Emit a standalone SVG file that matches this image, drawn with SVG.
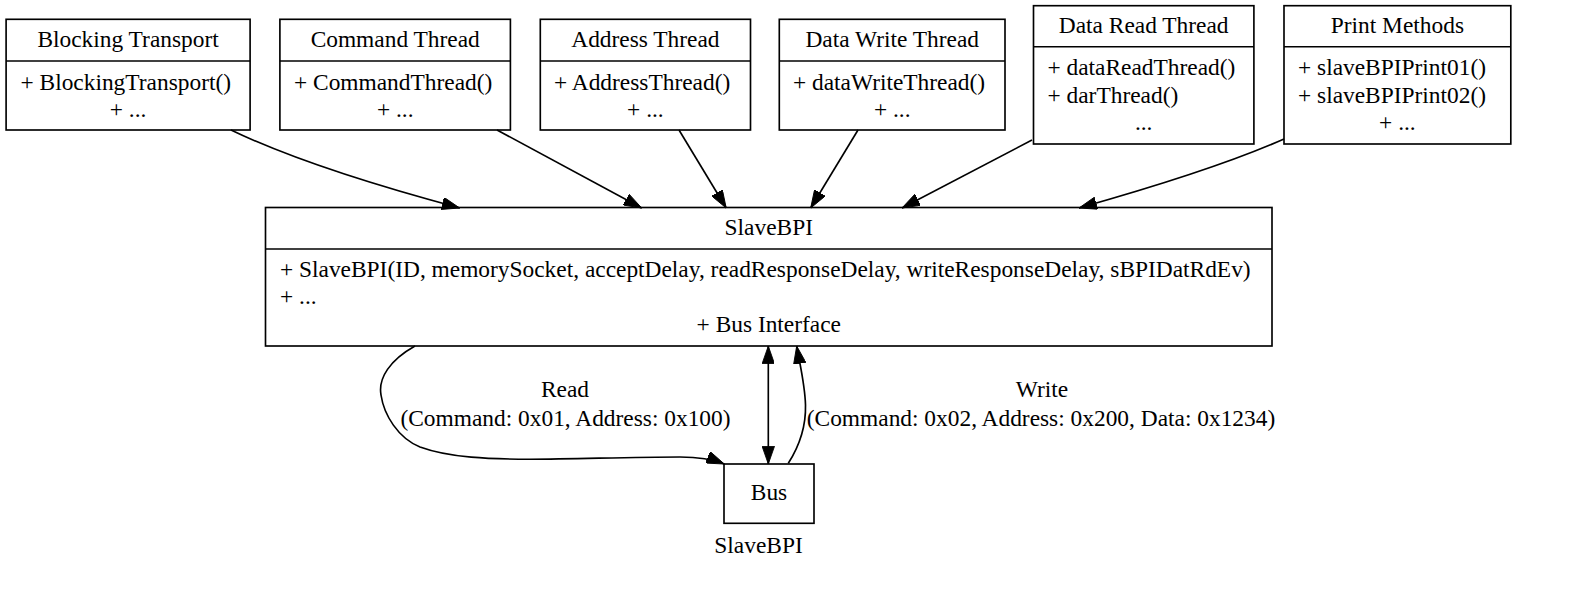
<svg xmlns="http://www.w3.org/2000/svg" width="1583" height="602" viewBox="0 0 1583 602">
<style>
.box{fill:#fff;stroke:#000;stroke-width:1.65}
.div{stroke:#000;stroke-width:1.65}
text{font-family:"Liberation Serif","Times New Roman",serif;font-size:23.4px;fill:#000}
.c{text-anchor:middle}
.e{fill:none;stroke:#000;stroke-width:1.65}
</style>
<defs>
<marker id="arr" viewBox="0 0 10 7" refX="10" refY="3.5" markerWidth="18" markerHeight="12.4" markerUnits="userSpaceOnUse" orient="auto-start-reverse">
<path d="M0,0 L10,3.5 L0,7 Z" fill="#000" stroke="#000" stroke-width="0.5"/>
</marker>
</defs>
<rect x="0" y="0" width="1583" height="602" fill="#fff"/>

<g id="blocking-transport">
<rect class="box" x="6.1" y="19.3" width="244" height="110.7"/>
<line class="div" x1="6.1" y1="61" x2="250.1" y2="61"/>
<text class="c" x="128.1" y="47">Blocking Transport</text>
<text x="20.5" y="89.5">+ BlockingTransport()</text>
<text class="c" x="128.1" y="116.8">+ ...</text>
</g>

<g id="command-thread">
<rect class="box" x="279.9" y="19.3" width="230.5" height="110.7"/>
<line class="div" x1="279.9" y1="61" x2="510.4" y2="61"/>
<text class="c" x="395.2" y="47">Command Thread</text>
<text x="294" y="89.5">+ CommandThread()</text>
<text class="c" x="395.2" y="116.8">+ ...</text>
</g>

<g id="address-thread">
<rect class="box" x="540.3" y="19.3" width="210.2" height="110.7"/>
<line class="div" x1="540.3" y1="61" x2="750.5" y2="61"/>
<text class="c" x="645.4" y="47">Address Thread</text>
<text x="554" y="89.5">+ AddressThread()</text>
<text class="c" x="645.4" y="116.8">+ ...</text>
</g>

<g id="data-write-thread">
<rect class="box" x="779.3" y="19.3" width="225.7" height="110.7"/>
<line class="div" x1="779.3" y1="61" x2="1005" y2="61"/>
<text class="c" x="892.2" y="47">Data Write Thread</text>
<text x="793" y="89.5">+ dataWriteThread()</text>
<text class="c" x="892.2" y="116.8">+ ...</text>
</g>

<g id="data-read-thread">
<rect class="box" x="1033.5" y="5.7" width="220.4" height="138.3"/>
<line class="div" x1="1033.5" y1="46.7" x2="1253.9" y2="46.7"/>
<text class="c" x="1143.7" y="33">Data Read Thread</text>
<text x="1047.5" y="75.3">+ dataReadThread()</text>
<text x="1047.5" y="102.6">+ darThread()</text>
<text class="c" x="1143.7" y="130">...</text>
</g>

<g id="print-methods">
<rect class="box" x="1284" y="5.7" width="226.8" height="138.3"/>
<line class="div" x1="1284" y1="46.7" x2="1510.8" y2="46.7"/>
<text class="c" x="1397.4" y="33">Print Methods</text>
<text x="1298" y="75.3">+ slaveBPIPrint01()</text>
<text x="1298" y="102.6">+ slaveBPIPrint02()</text>
<text class="c" x="1397.4" y="130">+ ...</text>
</g>

<g id="slavebpi">
<rect class="box" x="265.5" y="207.5" width="1006.5" height="138.5"/>
<line class="div" x1="265.5" y1="249" x2="1272" y2="249"/>
<text class="c" x="768.8" y="235">SlaveBPI</text>
<text x="280" y="277">+ SlaveBPI(ID, memorySocket, acceptDelay, readResponseDelay, writeResponseDelay, sBPIDatRdEv)</text>
<text x="280" y="304.3">+ ...</text>
<text class="c" x="768.8" y="331.6">+ Bus Interface</text>
</g>

<g id="bus">
<rect class="box" x="724" y="464" width="90" height="59.3"/>
<text class="c" x="769" y="500">Bus</text>
</g>

<g id="connectors">
<path class="e" d="M231,130 C 285,156 370,184 459.7,208" marker-end="url(#arr)"/>
<path class="e" d="M497,130 L641.7,208" marker-end="url(#arr)"/>
<path class="e" d="M679,130 L726.2,208" marker-end="url(#arr)"/>
<path class="e" d="M858,130 L810.7,208" marker-end="url(#arr)"/>
<path class="e" d="M1032,140 L902,208" marker-end="url(#arr)"/>
<path class="e" d="M1284,139 C 1230,163 1150,188 1079,208" marker-end="url(#arr)"/>
<path class="e" d="M415,346 C 390,360 378,378 381,395 C 384,415 398,438 420,447 C 450,458 490,459 530,459.3 C 580,459 630,457 680,457 C 700,457 712,459 724.3,464" marker-end="url(#arr)"/>
<path class="e" d="M768.3,346 L768.3,464" marker-start="url(#arr)" marker-end="url(#arr)"/>
<path class="e" d="M788.3,463.3 C 800,445 806,425 805.5,405 C 805,385 800,365 796.7,346" marker-end="url(#arr)"/>
<text class="c" x="565" y="397.3">Read</text>
<text class="c" x="565.5" y="426">(Command: 0x01, Address: 0x100)</text>
<text class="c" x="1042" y="397.3">Write</text>
<text class="c" x="1041" y="426">(Command: 0x02, Address: 0x200, Data: 0x1234)</text>
</g>

<text class="c" x="758.5" y="552.7">SlaveBPI</text>
</svg>
